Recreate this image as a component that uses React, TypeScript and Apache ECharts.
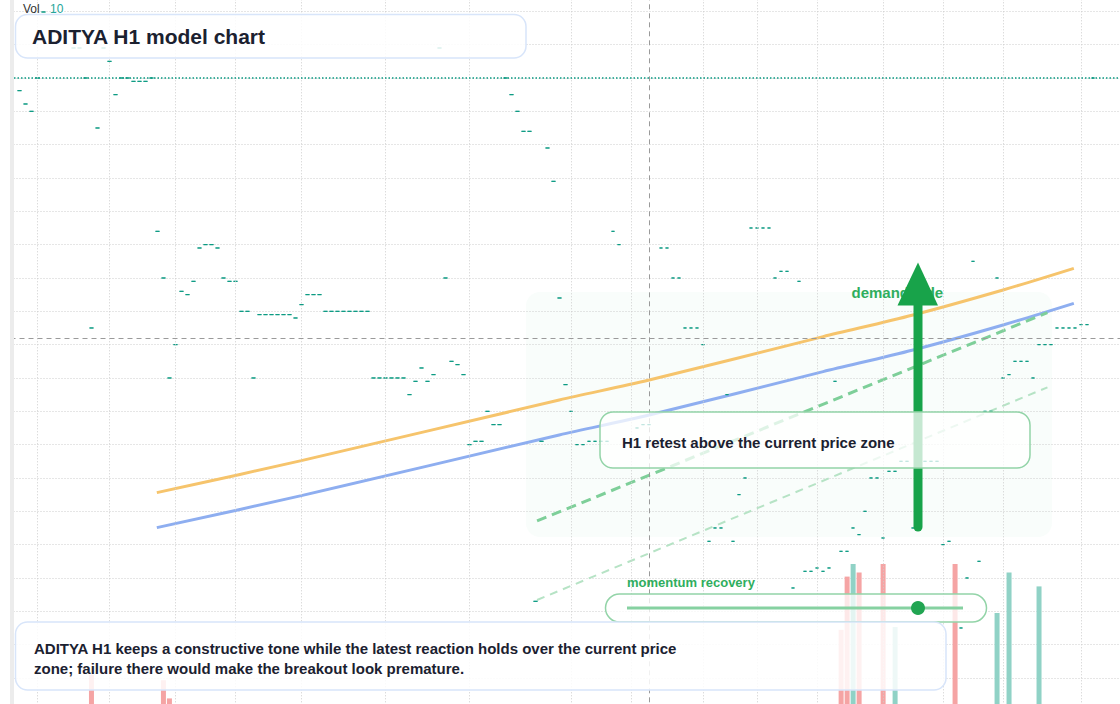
import React, { useEffect, useRef } from "react";
import * as echarts from "echarts";

const FONT = "'Liberation Sans', Arial, Helvetica, sans-serif";
const TEAL = "#089981";

// Hourly bars shown on the chart (index 0 = first bar at the left edge)
const BAR_COUNT = 185;
const barLabels: string[] = Array.from({ length: BAR_COUNT }, (_, i) => `H1 bar ${i + 1}`);

// Close price per bar (bars are flat: open = close = high = low); null = no bar drawn
const closePrices: (number | null)[] = [
  null, 99.31, 99.11, 99.0, 99.5, 100.49, null, null, null, null,
  99.95, 99.95, 99.5, 95.75, 98.75, 99.95, 99.75, 99.25, 99.5, 99.5,
  99.45, 99.45, 99.45, 99.5, 97.2, 96.5, 95.0, 95.5, 96.3, 96.25,
  96.45, 96.95, 97.0, 97.0, 96.95, 96.5, 96.45, 96.45, 96.0, 96.0,
  95.0, 95.95, 95.95, 95.95, 95.95, 95.95, 95.95, 95.9, 96.1, 96.25,
  96.25, 96.25, 96.0, 96.0, 96.0, 96.0, 96.0, 96.0, 96.0, 96.0,
  95.0, 95.0, 95.0, 95.0, 95.0, 95.0, 94.75, 94.95, 95.15, 94.95,
  95.05, 99.95, 96.5, 95.25, 95.2, 95.05, 94.0, 94.05, 94.05, 94.5,
  94.3, 94.3, 99.5, 99.25, 99.0, 98.7, 98.7, 91.65, 94.05, 98.45,
  97.95, 96.2, 94.9, 94.5, 94.0, 94.0, 94.05, 94.05, 94.05, 94.05,
  97.2, 97.0, null, null, 94.25, 94.3, 94.3, null, 96.95, 96.95,
  96.5, 96.5, 95.75, 95.75, 95.75, 95.5, 92.55, 92.75, 92.75, 94.75,
  92.55, 93.25, 93.5, 97.25, 97.25, 97.25, 97.25, 96.5, 96.6, 96.6,
  91.85, 96.45, 92.1, 92.1, 92.15, 92.1, 92.15, 94.95, 92.4, 92.4,
  92.75, 92.65, 93.0, 93.5, 93.5, 92.6, 93.6, 93.6, 93.75, 93.75,
  92.75, null, 93.75, 93.75, 93.75, 92.5, 92.55, null, 91.25, 92.0,
  96.75, 92.25, 94.5, 94.5, 96.5, 95.0, 95.05, 95.25, 95.25, 95.25,
  95.0, 95.5, 95.5, 95.5, 95.75, 95.75, 95.75, 95.75, 95.8, 95.8,
  99.5, null, null, null, null,
];

// Volume bars
const volumeBars = [13, 25, 26, 138, 139, 140, 141, 145, 147, 157, 164, 166, 171];
const volumeValues = [2.1, 1.7, 0.4, 5.3, 9.1, 10, 9.4, 10, 5.5, 10, 6.5, 9.4, 8.4];
const volumeRising = [false, false, false, false, false, true, false, false, true, false, true, true, true];
const volumeMax = 10;

// Trend curves (x in bar index units)
const trendX = [23.9, 48, 91, 106, 135, 150, 165, 176.8];
const upperTrend = [93.28, 93.76, 94.67, 94.97, 95.62, 95.945, 96.32, 96.645];
const lowerTrend = [92.755, 93.235, 94.145, 94.445, 95.095, 95.42, 95.795, 96.12];

// Rising channel
const channelX = [87.3, 172.4];
const channelUpper = [92.855, 95.98];
const channelLower = [91.67, 94.86];

// Reference lines
const gridlineBars = [4, 16, 27, 37, 48, 62, 76, 93, 103, 115, 124, 134, 145, 155, 165, 178];
const crosshairBar = 106;
const crosshairPrice = 95.6;
const lastPrice = 99.5;

const titleText = "ADITYA H1 model chart";
const noteLines = [
  "ADITYA H1 keeps a constructive tone while the latest reaction holds over the current price",
  "zone; failure there would make the breakout look premature.",
];
const calloutText = "H1 retest above the current price zone";
const demandText = "demand side";
const momentumText = "momentum recovery";

// The chart canvas starts above the page top so the price grid can overflow it.
const TOP_OFFSET = 22;
const CANVAS_H = 734;
const py = (y: number) => y + TOP_OFFSET;

function txt(text: string, x: number, y: number, size: number, color: string, weight: string | number, z: number) {
  return {
    type: "text",
    z,
    silent: true,
    style: {
      text,
      x,
      y: py(y),
      fill: color,
      fontSize: size,
      fontWeight: weight,
      fontFamily: FONT,
      align: "left",
      verticalAlign: "middle",
      textAlign: "left",
      textVerticalAlign: "middle",
    },
  };
}

function box(x: number, y: number, w: number, h: number, r: number, fill: string, stroke: string, z: number) {
  return {
    type: "rect",
    z,
    silent: true,
    shape: { x, y: py(y), width: w, height: h, r },
    style: { fill, stroke, lineWidth: 1.5 },
  };
}

export default function App() {
  const ref = useRef<HTMLDivElement>(null);

  useEffect(() => {
    if (!ref.current) return;
    const chart = echarts.init(ref.current, undefined, { renderer: "svg" });

    const candleData = closePrices.map((p) => (p == null ? ["-", "-", "-", "-"] : [p, p, p, p]));
    const volData: any[] = barLabels.map(() => "-");
    volumeBars.forEach((b, j) => {
      volData[b] = {
        value: volumeValues[j],
        itemStyle: { color: volumeRising[j] ? "#90d2c6" : "#f5a4a4" },
      };
    });

    const gridStyle = { type: [1, 2], color: "#cdcdcd", width: 1 };
    const markData: any[] = [
      ...gridlineBars.map((b) => ({ xAxis: barLabels[b], lineStyle: gridStyle })),
      { xAxis: barLabels[crosshairBar], lineStyle: { type: [5, 4], color: "#9a9a9a", width: 1 } },
      { yAxis: crosshairPrice, lineStyle: { type: [5, 4], color: "#9a9a9a", width: 1 } },
      { yAxis: lastPrice, lineStyle: { type: [1.5, 2], color: TEAL, width: 1.5 } },
    ];

    const option: any = {
      animation: false,
      backgroundColor: "#ffffff",
      textStyle: { fontFamily: FONT },
      grid: [
        { left: 10.5, right: -0.5, top: 0, bottom: 0.7 },
        { left: 10.5, right: -0.5, top: py(564), bottom: CANVAS_H - py(704) },
      ],
      xAxis: [
        {
          type: "category",
          gridIndex: 0,
          data: barLabels,
          boundaryGap: true,
          axisLine: { show: false },
          axisTick: { show: false },
          axisLabel: { show: false },
          splitLine: { show: false },
        },
        {
          type: "value",
          gridIndex: 0,
          min: -0.5,
          max: BAR_COUNT - 0.5,
          show: false,
          splitLine: { show: false },
        },
        {
          type: "category",
          gridIndex: 1,
          data: barLabels,
          show: false,
          splitLine: { show: false },
        },
      ],
      yAxis: [
        {
          type: "value",
          gridIndex: 0,
          min: 90,
          max: 101,
          interval: 0.5,
          axisLine: { show: false },
          axisTick: { show: false },
          axisLabel: { show: false },
          splitLine: { show: true, lineStyle: gridStyle },
        },
        {
          type: "value",
          gridIndex: 1,
          min: 0,
          max: volumeMax,
          show: false,
          splitLine: { show: false },
        },
      ],
      series: [
        {
          name: "Volume",
          type: "bar",
          xAxisIndex: 2,
          yAxisIndex: 1,
          barWidth: 5,
          data: volData,
          z: 1,
          silent: true,
        },
        {
          name: "Upper trend",
          type: "line",
          xAxisIndex: 1,
          yAxisIndex: 0,
          data: trendX.map((x, j) => [x, upperTrend[j]]),
          smooth: 0.3,
          symbol: "none",
          lineStyle: { color: "#f6c46c", width: 3 },
          z: 3,
          silent: true,
        },
        {
          name: "Lower trend",
          type: "line",
          xAxisIndex: 1,
          yAxisIndex: 0,
          data: trendX.map((x, j) => [x, lowerTrend[j]]),
          smooth: 0.3,
          symbol: "none",
          lineStyle: { color: "#8eaef0", width: 3 },
          z: 3,
          silent: true,
        },
        {
          name: "Channel upper",
          type: "line",
          xAxisIndex: 1,
          yAxisIndex: 0,
          data: channelX.map((x, j) => [x, channelUpper[j]]),
          symbol: "none",
          lineStyle: { color: "#7ecf99", width: 3, type: [10, 6] },
          z: 3,
          silent: true,
        },
        {
          name: "Channel lower",
          type: "line",
          xAxisIndex: 1,
          yAxisIndex: 0,
          data: channelX.map((x, j) => [x, channelLower[j]]),
          symbol: "none",
          lineStyle: { color: "#b6e3c5", width: 2, type: [8, 6] },
          z: 3,
          silent: true,
        },
        {
          name: "ADITYA H1",
          type: "candlestick",
          xAxisIndex: 0,
          yAxisIndex: 0,
          data: candleData,
          barWidth: 4,
          itemStyle: {
            color: TEAL,
            color0: TEAL,
            borderColor: TEAL,
            borderColor0: TEAL,
            borderWidth: 1,
          },
          z: 4,
          silent: true,
          markLine: {
            silent: true,
            symbol: ["none", "none"],
            label: { show: false },
            animation: false,
            data: markData,
          },
        },
      ],
      graphic: [
        { type: "rect", z: 20, silent: true, shape: { x: 10, y: py(0), width: 4, height: 704 }, style: { fill: "#ececec" } },
        {
          type: "rect",
          z: 0,
          silent: true,
          shape: { x: 526, y: py(292), width: 526, height: 245, r: 14 },
          style: { fill: "rgba(34,197,94,0.028)" },
        },
        txt(demandText, 851.5, 292.5, 15, "#2fae5e", "bold", 40),
        {
          type: "line",
          z: 45,
          silent: true,
          shape: { x1: 918, y1: py(527), x2: 918, y2: py(300) },
          style: { stroke: "#18a34a", lineWidth: 9, lineCap: "round" },
        },
        {
          type: "polygon",
          z: 45,
          silent: true,
          shape: { points: [[897.5, py(305.5)], [938, py(305.5)], [918, py(262.5)]] },
          style: { fill: "#18a34a" },
        },
        box(600, 412, 430, 56, 13, "rgba(255,255,255,0.75)", "#93d4a8", 60),
        txt(calloutText, 622, 442, 15, "#1b2130", "bold", 61),
        txt(momentumText, 627, 582, 13, "#2fae5e", "bold", 61),
        box(605.5, 594, 381, 28, 14, "rgba(255,255,255,0.75)", "#93d4a8", 60),
        {
          type: "line",
          z: 61,
          silent: true,
          shape: { x1: 627, y1: py(608), x2: 963, y2: py(608) },
          style: { stroke: "#86d1a1", lineWidth: 3 },
        },
        {
          type: "circle",
          z: 62,
          silent: true,
          shape: { cx: 918, cy: py(608), r: 7 },
          style: { fill: "#22a552" },
        },
        box(15.5, 622, 930.5, 68, 12, "rgba(255,255,255,0.85)", "#d8e5fa", 60),
        txt(noteLines[0], 34, 648, 15, "#1b2130", "bold", 61),
        txt(noteLines[1], 34, 668, 15, "#1b2130", "bold", 61),
        box(15.5, 14.5, 510.5, 43.5, 12, "rgba(255,255,255,0.85)", "#d8e5fa", 60),
        txt(titleText, 32, 36, 21, "#1b2130", "bold", 61),
        txt("Vol", 23, 8.5, 12, "#333333", "normal", 70),
        txt(String(volumeMax), 50, 8.5, 12, "#26a69a", "normal", 70),
      ],
    };

    chart.setOption(option);
    return () => chart.dispose();
  }, []);

  return (
    <div
      ref={ref}
      style={{ position: "fixed", left: 0, top: -TOP_OFFSET, width: 1120, height: CANVAS_H }}
    />
  );
}
